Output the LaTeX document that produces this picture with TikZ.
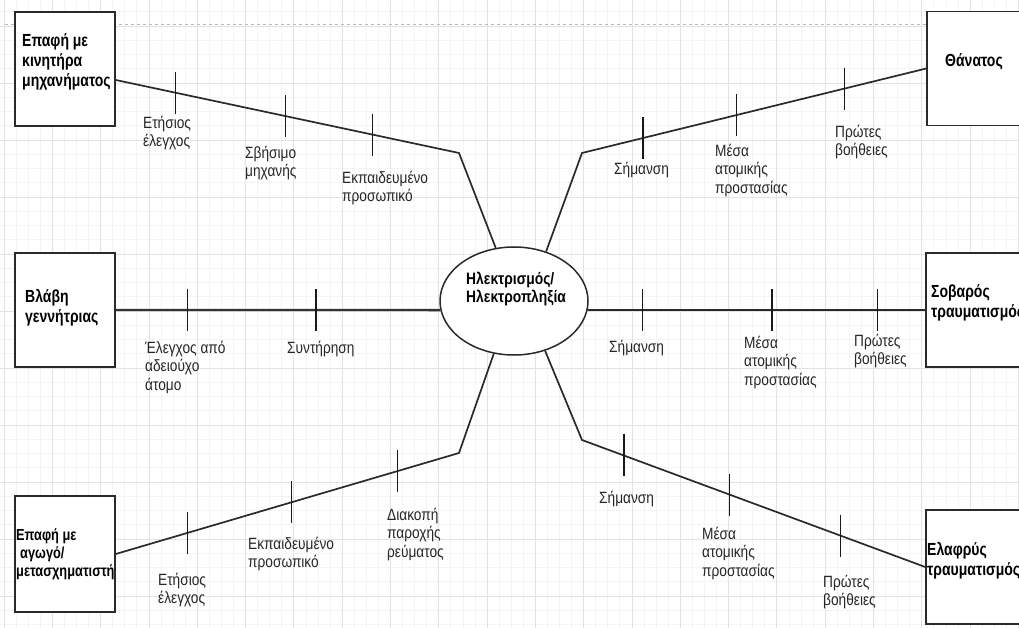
\documentclass[tikz,border=0pt]{standalone}
\usepackage{fontspec}
\setmainfont{Liberation Sans}
\newfontfamily\narrowsans[FakeStretch=0.84]{Liberation Sans}
\newfontfamily\narrowbold[FakeStretch=0.80]{Liberation Sans Bold}
\usetikzlibrary{calc,shapes.geometric}

\definecolor{gridmajor}{HTML}{E3E3E3}
\definecolor{gridminor}{HTML}{F4F4F4}
\definecolor{ink}{HTML}{2A2A2A}

\tikzset{
  gridminorline/.style={draw=gridminor, line width=0.7pt},
  gridmajorline/.style={draw=gridmajor, line width=0.8pt},
  pageline/.style={draw=black!28, line width=1pt, dash pattern=on 3pt off 3pt},
  box/.style={rectangle, draw=ink, line width=1.5pt, fill=white,
    minimum width=100pt, minimum height=114pt, inner sep=0pt},
  hub/.style={ellipse, draw=ink, line width=1.5pt, fill=white,
    minimum width=148pt, minimum height=108pt, inner sep=0pt},
  branch/.style={draw=ink, line width=1.7pt, line join=round},
  heavybranch/.style={draw=black!80, line width=2.4pt},
  tickmark/.style={draw=black!90, line width=1.3pt},
  lab/.style={font=\narrowsans\fontsize{16.3pt}{18.3pt}\selectfont,
    align=left, inner sep=0pt, anchor=north west, text=black!85},
  head/.style={font=\narrowbold\fontsize{17.5pt}{20.3pt}\selectfont,
    align=left, inner sep=0pt, anchor=north west, text=black},
  smallhead/.style={head, font=\narrowbold\fontsize{16pt}{18pt}\selectfont},
  hubtext/.style={font=\narrowsans\bfseries\fontsize{16.5pt}{17.8pt}\selectfont,
    align=left, inner sep=0pt, anchor=north west, text=black},
}

\begin{document}
\begin{tikzpicture}[x=1pt, y=-1pt]
\useasboundingbox (0,0) rectangle (1019,628);
\clip (0,0) rectangle (1019,628);
\fill[white] (0,0) rectangle (1019,628);

% canvas grid
\foreach \k in {0,...,84} {
  \pgfmathsetmacro\gx{4+12.075*\k}
  \draw[gridminorline] (\gx,0) -- (\gx,628);
}
\foreach \k in {-1,...,43} {
  \pgfmathsetmacro\gy{26+14.25*\k}
  \draw[gridminorline] (0,\gy) -- (1019,\gy);
}
\foreach \k in {0,...,21} {
  \pgfmathsetmacro\gx{4+48.3*\k}
  \draw[gridmajorline] (\gx,0) -- (\gx,628);
}
\foreach \k in {0,...,10} {
  \pgfmathsetmacro\gy{26+57*\k}
  \draw[gridmajorline] (0,\gy) -- (1019,\gy);
}

% page break
\draw[pageline] (5,25) -- (927,25);

% causes (left) and consequences (right)
\node[box] (b1) at (65,69) {};
\node[box] (b3) at (65,310) {};
\node[box, minimum height=116pt] (b5) at (65,554) {};
\node[box] (b2) at (977,68.5) {};
\node[box] (b4) at (976,310) {};
\node[box] (b6) at (976,567) {};

% central event
\node[hub] (hub) at (514,301) {};

% bends of the slanted branches
\coordinate (k1) at (459,153);
\coordinate (k2) at (582,153);
\coordinate (k5) at (459,453);
\coordinate (k6) at (582,440);
\coordinate (s1) at ([yshift=-11pt]b1.east);

% branches
\draw[branch] (s1) -- (k1) -- (hub.109.6);
\draw[branch] (hub.57.5) -- (k2) -- (b2.west);
\draw[heavybranch] (b3.east) -- (hub.187);
\draw[branch] (hub.-7) -- (b4.west);
\draw[branch] (hub.249.7) -- (k5) -- (b5.east);
\draw[branch] (hub.-58.6) -- (k6) -- (b6.west);

% barrier ticks on the branches
\foreach \n/\a/\b/\t in {
  t11/s1/k1/0.174, t12/s1/k1/0.494, t13/s1/k1/0.747,
  t21/k2/b2.west/0.177, t22/k2/b2.west/0.449, t23/k2/b2.west/0.762,
  t31/b3.east/hub.187/0.221, t32/b3.east/hub.187/0.617,
  t41/hub.-7/b4.west/0.162, t42/hub.-7/b4.west/0.546, t43/hub.-7/b4.west/0.858,
  t51/k5/b5.east/0.180, t52/k5/b5.east/0.488, t53/k5/b5.east/0.791,
  t61/k6/b6.west/0.122, t62/k6/b6.west/0.430, t63/k6/b6.west/0.753} {
  \coordinate (\n) at ($(\a)!\t!(\b)$);
  \draw[tickmark] ($(\n)+(0,-21)$) -- ($(\n)+(0,21)$);
}

% box captions
\node[head] (h1) at (22,33) {Επαφή με\\κινητήρα\\μηχανήματος};
\node[head] (h3) at (25,289) {Βλάβη\\γεννήτριας};
\node[smallhead] (h5) at (16,529) {Επαφή με\\\hspace*{4pt}αγωγό/\\μετασχηματιστή};
\node[head, anchor=center] (h2) at (974,62) {Θάνατος};
\node[head] (h4) at (931,284) {Σοβαρός\\τραυματισμός};
\node[head] (h6) at (927,542) {Ελαφρύς\\τραυματισμός};
\node[hubtext] (hh) at (466,272) {Ηλεκτρισμός/\\Ηλεκτροπληξία};

% barrier labels
\node[lab] at (143,116) {Ετήσιος\\έλεγχος};
\node[lab] at (245,146) {Σβήσιμο\\μηχανής};
\node[lab] at (342,171) {Εκπαιδευμένο\\προσωπικό};

\node[lab] at (614,162) {Σήμανση};
\node[lab] at (715,144) {Μέσα\\ατομικής\\προστασίας};
\node[lab] at (835,125) {Πρώτες\\βοήθειες};

\node[lab] at (145,341) {Έλεγχος από\\αδειούχο\\άτομο};
\node[lab] at (287,341) {Συντήρηση};

\node[lab] at (609,340) {Σήμανση};
\node[lab] at (744,336) {Μέσα\\ατομικής\\προστασίας};
\node[lab] at (854,334) {Πρώτες\\βοήθειες};

\node[lab] at (158,573) {Ετήσιος\\έλεγχος};
\node[lab] at (248,537) {Εκπαιδευμένο\\προσωπικό};
\node[lab] at (387,508) {Διακοπή\\παροχής\\ρεύματος};

\node[lab] at (599,491) {Σήμανση};
\node[lab] at (702,527) {Μέσα\\ατομικής\\προστασίας};
\node[lab] at (823,575) {Πρώτες\\βοήθειες};
\end{tikzpicture}
\end{document}
